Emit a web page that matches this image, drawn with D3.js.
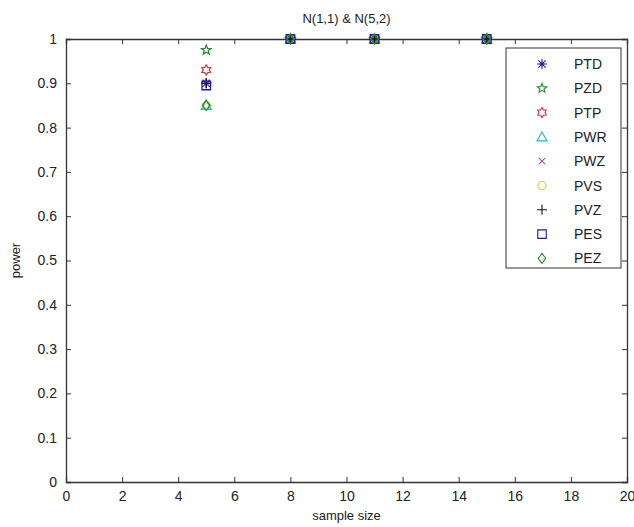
<!DOCTYPE html>
<html><head><meta charset="utf-8">
<script src="https://cdn.jsdelivr.net/npm/d3@7"></script>
<style>
body{margin:0;background:#fff;}
text{font-family:"Liberation Sans",Arial,sans-serif;fill:#222;}
</style></head>
<body><svg id="chart" width="634" height="527"></svg>
<script>
const sampleSizes = [5, 8, 11, 15];
const seriesNames = ["PTD","PZD","PTP","PWR","PWZ","PVS","PVZ","PES","PEZ"];
const PTD = [0.90, 1, 1, 1];
const PZD = [0.975, 1, 1, 1];
const PTP = [0.93, 1, 1, 1];
const PWR = [0.85, 1, 1, 1];
const PWZ = [0.90, 1, 1, 1];
const PVS = [0.85, 1, 1, 1];
const PVZ = [0.90, 1, 1, 1];
const PES = [0.895, 1, 1, 1];
const PEZ = [0.85, 1, 1, 1];
const seriesValues = [PTD,PZD,PTP,PWR,PWZ,PVS,PVZ,PES,PEZ];
const xTicks = [0,2,4,6,8,10,12,14,16,18,20];
const yTicks = [0,0.1,0.2,0.3,0.4,0.5,0.6,0.7,0.8,0.9,1];
const title = "N(1,1) & N(5,2)";
const xLabel = "sample size";
const yLabel = "power";

const styles = {
  PTD:{c:"#1c1c9a",m:"asterisk"},
  PZD:{c:"#2e8b2e",m:"pentagram"},
  PTP:{c:"#c83c3c",m:"hexagram"},
  PWR:{c:"#22b8c0",m:"triangle"},
  PWZ:{c:"#b048b0",m:"x"},
  PVS:{c:"#d0c840",m:"circle"},
  PVZ:{c:"#111111",m:"plus"},
  PES:{c:"#1c1c9a",m:"square"},
  PEZ:{c:"#2e8b2e",m:"diamond"}
};

const svg = d3.select("#chart");
const L=66, R=627, T=39, B=482;
const x = d3.scaleLinear().domain([0,20]).range([L,R]);
const y = d3.scaleLinear().domain([0,1]).range([B,T]);
const axCol="#333";

const gx = svg.append("g").attr("transform",`translate(0,${B})`)
  .call(d3.axisBottom(x).tickValues(xTicks).tickSize(-5).tickPadding(9).tickFormat(d3.format("d")));
const gy = svg.append("g").attr("transform",`translate(${L},0)`)
  .call(d3.axisLeft(y).tickValues(yTicks).tickSize(-5).tickPadding(9).tickFormat(d=>d===0||d===1?d3.format("d")(d):d3.format(".1f")(d)));
const gxt = svg.append("g").attr("transform",`translate(0,${T})`)
  .call(d3.axisTop(x).tickValues(xTicks).tickSize(-5).tickFormat(""));
const gyr = svg.append("g").attr("transform",`translate(${R},0)`)
  .call(d3.axisRight(y).tickValues(yTicks).tickSize(-5).tickFormat(""));
[gx,gy,gxt,gyr].forEach(g=>{
  g.select(".domain").attr("stroke",axCol).attr("stroke-width",1.3);
  g.selectAll(".tick line").attr("stroke",axCol);
  g.selectAll(".tick text").attr("font-size",14).attr("fill","#222").attr("font-family","Liberation Sans, Arial, sans-serif");
});

svg.append("text").attr("x",(L+R)/2).attr("y",23).attr("text-anchor","middle").attr("font-size",13).text(title);
svg.append("text").attr("x",(L+R)/2).attr("y",520).attr("text-anchor","middle").attr("font-size",13).text(xLabel);
svg.append("text").attr("transform",`translate(20,${(T+B)/2}) rotate(-90)`).attr("text-anchor","middle").attr("font-size",13).text(yLabel);

function markerPath(m, s){
  const r=s/2;
  switch(m){
    case "asterisk": {
      let p=`M${-r},0L${r},0M0,${-r}L0,${r}`;
      const a=r*0.72; p+=`M${-a},${-a}L${a},${a}M${-a},${a}L${a},${-a}`; return p;}
    case "x": {const a=r*0.6; return `M${-a},${-a}L${a},${a}M${-a},${a}L${a},${-a}`;}
    case "plus": return `M${-r},0L${r},0M0,${-r}L0,${r}`;
    case "square": {const a=r*0.85; return `M${-a},${-a}H${a}V${a}H${-a}Z`;}
    case "diamond": return `M0,${-r}L${r*0.75},0L0,${r}L${-r*0.75},0Z`;
    case "circle": {const a=r*0.8; return `M${a},0A${a},${a} 0 1,1 ${-a},0A${a},${a} 0 1,1 ${a},0Z`;}
    case "triangle": return `M0,${-r}L${r},${r*0.8}L${-r},${r*0.8}Z`;
    case "pentagram": {
      let pts=[]; for(let i=0;i<10;i++){const rr=i%2?r*0.42:r; const ang=-Math.PI/2+i*Math.PI/5; pts.push([rr*Math.cos(ang),rr*Math.sin(ang)]);}
      return "M"+pts.map(p=>p.join(",")).join("L")+"Z";}
    case "hexagram": {
      let pts=[]; for(let i=0;i<12;i++){const rr=i%2?r*0.6:r; const ang=-Math.PI/2+i*Math.PI/6; pts.push([rr*Math.cos(ang),rr*Math.sin(ang)]);}
      return "M"+pts.map(p=>p.join(",")).join("L")+"Z";}
  }
}

const plot = svg.append("g");
seriesNames.forEach((name,i)=>{
  const st=styles[name];
  plot.selectAll(null).data(sampleSizes.map((s,j)=>({s,v:seriesValues[i][j]}))).enter()
    .append("path")
    .attr("transform",d=>`translate(${x(d.s)},${y(d.v)})`)
    .attr("d",markerPath(st.m,10))
    .attr("fill","none").attr("stroke",st.c).attr("stroke-width",1.3);
});

const lg = svg.append("g");
lg.append("rect").attr("x",506).attr("y",48).attr("width",115).attr("height",220)
  .attr("fill","#fff").attr("stroke",axCol).attr("stroke-width",1);
seriesNames.forEach((name,i)=>{
  const st=styles[name];
  const yy=64+i*24.3;
  lg.append("path").attr("transform",`translate(542,${yy})`).attr("d",markerPath(st.m,10))
    .attr("fill","none").attr("stroke",st.c).attr("stroke-width",1.1);
  lg.append("text").attr("x",574).attr("y",yy+5).attr("font-size",14).text(name);
});
</script></body></html>
